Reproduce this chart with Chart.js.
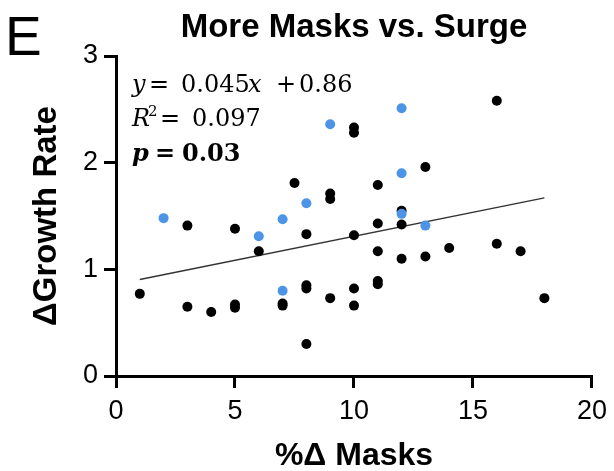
<!DOCTYPE html>
<html>
<head>
<meta charset="utf-8">
<script src="https://cdn.jsdelivr.net/npm/chart.js@4.4.0/dist/chart.umd.min.js"></script>
<style>
  html, body { margin: 0; padding: 0; background: #fff; }
</style>
</head>
<body>
<canvas id="chart" width="614" height="471"></canvas>
<script>
// Texte
const titel = 'More Masks vs. Surge';
const panel = 'E';
const xTitel = '%\u0394 Masks';
const yTitel = '\u0394Growth Rate';

// Daten
const xSchwarz = [1, 3, 3, 4, 5, 5, 5, 6, 7, 7, 7.5, 8, 8, 8, 8, 9, 9, 9, 10, 10, 10, 10, 10,
  11, 11, 11, 11, 11, 12, 12, 12, 13, 13, 14, 16, 16, 17, 18];
const ySchwarz = [0.77, 1.41, 0.65, 0.60, 1.38, 0.67, 0.64, 1.17, 0.68, 0.66, 1.81, 1.33, 0.85, 0.82, 0.30,
  1.71, 1.66, 0.73, 2.33, 2.28, 1.32, 0.82, 0.66, 1.79, 1.43, 1.17, 0.89, 0.86, 1.55, 1.42, 1.10,
  1.96, 1.12, 1.20, 2.58, 1.24, 1.17, 0.73];
const xBlau = [2, 6, 7, 7, 8, 9, 12, 12, 12, 13];
const yBlau = [1.48, 1.31, 1.47, 0.80, 1.62, 2.36, 2.51, 1.90, 1.52, 1.41];

// Regressionsgerade: Endpunkte
const xLinie = [1, 18];
const yLinie = [0.905, 1.67];

// Achsen-Ticks
const xTicks = [0, 5, 10, 15, 20];
const yTicks = [0, 1, 2, 3];

function punkte(xs, ys) {
  return xs.map((x, i) => ({ x: x, y: ys[i] }));
}

Chart.defaults.font.family = '"Liberation Sans", Arial, sans-serif';
Chart.defaults.color = '#000';

// Titel, Buchstabe und Gleichung zeichnen
const textPlugin = {
  id: 'texte',
  afterDraw(chart) {
    const ctx = chart.ctx;
    const area = chart.chartArea;
    ctx.save();
    ctx.fillStyle = '#000';
    ctx.textBaseline = 'alphabetic';

    ctx.font = 'bold 33px "Liberation Sans", Arial, sans-serif';
    ctx.textAlign = 'center';
    ctx.fillText(titel, (area.left + area.right) / 2, 37);

    ctx.font = '55px "Liberation Sans", Arial, sans-serif';
    ctx.textAlign = 'left';
    ctx.fillText(panel, 5, 55);

    const serif = '"DejaVu Serif", serif';
    const l = area.left;
    const teile = [
      ['y', 'italic 24px ' + serif, 16, 92],
      ['=', '24px ' + serif, 33, 92],
      ['0.045', '24px ' + serif, 65, 92],
      ['x', 'italic 24px ' + serif, 132, 92],
      ['+', '24px ' + serif, 160, 92],
      ['0.86', '24px ' + serif, 183, 92],
      ['R', 'italic 24px ' + serif, 16, 126],
      ['2', '15px ' + serif, 32, 116],
      ['=', '24px ' + serif, 44, 126],
      ['0.097', '24px ' + serif, 76, 126],
      ['p', 'bold italic 24px ' + serif, 16, 161],
      ['=', 'bold 24px ' + serif, 39, 161],
      ['0.03', 'bold 24px ' + serif, 66, 161]
    ];
    teile.forEach(t => {
      ctx.font = t[1];
      ctx.fillText(t[0], l + t[2], t[3]);
    });
    ctx.restore();
  }
};

const ctx = document.getElementById('chart').getContext('2d');
const chart = new Chart(ctx, {
  type: 'scatter',
  data: {
    datasets: [
      {
        data: punkte(xBlau, yBlau),
        backgroundColor: '#4d94e6',
        borderWidth: 0,
        pointRadius: 5,
        order: 1
      },
      {
        data: punkte(xSchwarz, ySchwarz),
        backgroundColor: '#000',
        borderWidth: 0,
        pointRadius: 5,
        order: 2
      },
      {
        type: 'line',
        data: punkte(xLinie, yLinie),
        borderColor: '#333',
        borderWidth: 1.5,
        pointRadius: 0,
        fill: false,
        order: 3
      }
    ]
  },
  options: {
    responsive: false,
    animation: false,
    clip: false,
    layout: { padding: { top: 56, right: 18, left: 0, bottom: 0 } },
    plugins: {
      legend: { display: false },
      tooltip: { enabled: false }
    },
    scales: {
      x: {
        type: 'linear',
        min: 0,
        max: 20,
        afterBuildTicks: s => { s.ticks = xTicks.map(v => ({ value: v })); },
        afterFit: s => { s.height = 95; },
        border: { display: true, color: '#000', width: 3 },
        grid: { display: true, drawOnChartArea: false, drawTicks: true, tickLength: 12, lineWidth: 3, color: '#000' },
        ticks: { font: { size: 27 }, padding: 7, color: '#000' },
        title: { display: true, text: xTitel, font: { size: 32, weight: 'bold' }, padding: { top: 0, bottom: -4 } }
      },
      y: {
        type: 'linear',
        min: 0,
        max: 3,
        afterBuildTicks: s => { s.ticks = yTicks.map(v => ({ value: v })); },
        afterFit: s => { s.width = 116; },
        border: { display: true, color: '#000', width: 3 },
        grid: { display: true, drawOnChartArea: false, drawTicks: true, tickLength: 12, lineWidth: 3, color: '#000' },
        ticks: { font: { size: 27 }, padding: 6, color: '#000' },
        title: { display: true, text: yTitel, font: { size: 33, weight: 'bold' }, padding: { top: 27, bottom: 0 } }
      }
    }
  },
  plugins: [textPlugin]
});
</script>
</body>
</html>
